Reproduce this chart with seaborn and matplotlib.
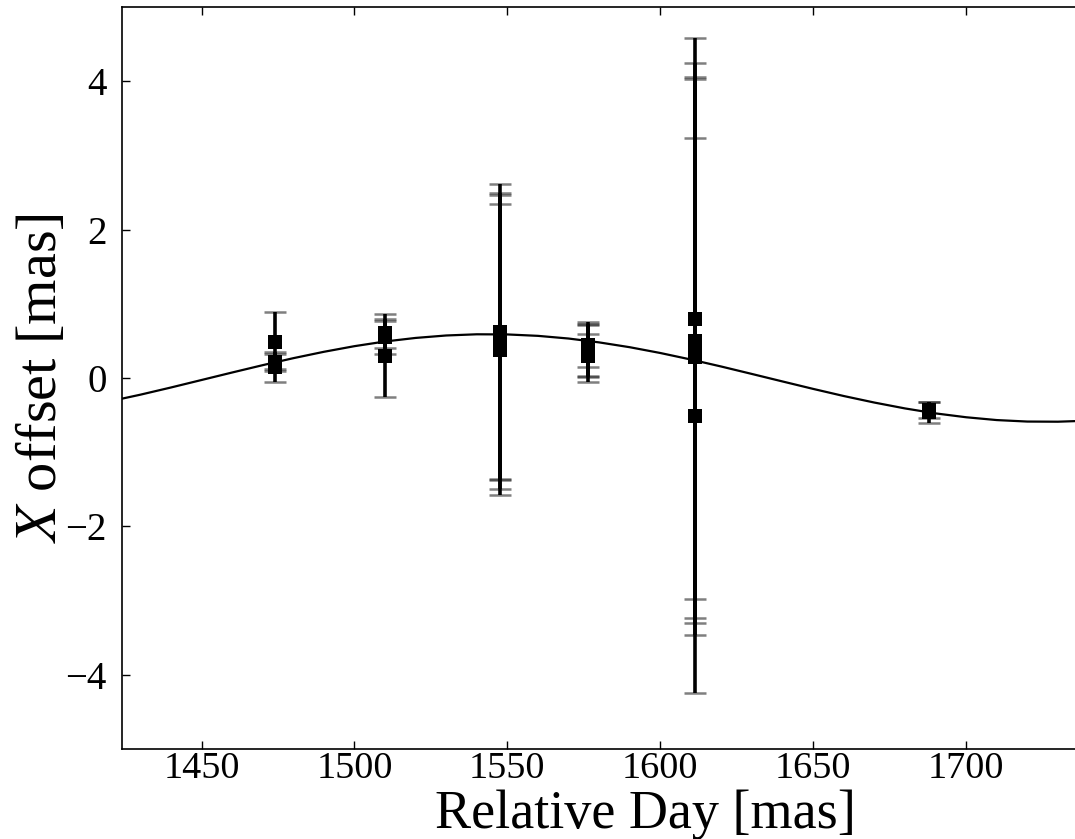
import matplotlib
matplotlib.use("Agg")
import matplotlib.pyplot as plt
import seaborn as sns
import pandas as pd

# ---- data ----
day = [1474, 1474, 1474,
       1510, 1510, 1510,
       1547.5, 1547.5, 1547.5, 1547.5,
       1576.5, 1576.5, 1576.5, 1576.5,
       1611.5, 1611.5, 1611.5, 1611.5, 1611.5,
       1688, 1688]
x_offset = [0.49, 0.22, 0.15,
            0.60, 0.55, 0.30,
            0.62, 0.50, 0.55, 0.38,
            0.45, 0.38, 0.33, 0.30,
            0.80, 0.50, 0.38, 0.28, -0.51,
            -0.43, -0.46]
x_err = [0.40, 0.10, 0.20,
         0.20, 0.22, 0.56,
         2.00, 1.99, 1.91, 1.96,
         0.30, 0.35, 0.38, 0.29,
         3.78, 3.74, 3.68, 3.75, 3.74,
         0.11, 0.14]

curve_day = [1420, 1430, 1440, 1450, 1460, 1470, 1480, 1490, 1500, 1510,
             1520, 1530, 1540, 1550, 1560, 1570, 1580, 1590, 1600, 1610,
             1620, 1630, 1640, 1650, 1660, 1670, 1680, 1690, 1700, 1710,
             1720, 1730, 1740, 1750, 1760, 1770]
curve_x = [-0.314, -0.225, -0.128, -0.027, 0.074, 0.173, 0.267, 0.353, 0.429, 0.492,
           0.540, 0.573, 0.589, 0.587, 0.568, 0.532, 0.480, 0.415, 0.337, 0.249,
           0.154, 0.054, -0.047, -0.147, -0.243, -0.331, -0.410, -0.477, -0.529, -0.567,
           -0.587, -0.589, -0.575, -0.543, -0.494, -0.430]

xticks = [1450, 1500, 1550, 1600, 1650, 1700]
yticks = [-4, -2, 0, 2, 4]

pts = pd.DataFrame({"day": day, "xoff": x_offset, "err": x_err})
model = pd.DataFrame({"day": curve_day, "xoff": curve_x})

sns.set_theme(style="ticks")
plt.rcParams["font.family"] = ["Liberation Serif", "DejaVu Serif"]
plt.rcParams["mathtext.fontset"] = "stix"
plt.rcParams["axes.linewidth"] = 1.2

W, H = 1075, 839
ax_left, ax_right, ax_top, ax_bottom = 122, 1168, 7, 749   # pixels (axes runs past right edge)
fig = plt.figure(figsize=(W / 100, H / 100), dpi=100)
ax = fig.add_axes([ax_left / W, 1 - ax_bottom / H,
                   (ax_right - ax_left) / W, (ax_bottom - ax_top) / H])

sns.lineplot(data=model, x="day", y="xoff", ax=ax, color="black",
             linewidth=1.6, sort=True, zorder=1)

eb = ax.errorbar(pts["day"], pts["xoff"], yerr=pts["err"], fmt="none",
                 ecolor="black", elinewidth=2.6, capsize=8, capthick=1.8,
                 zorder=2)
for cl in eb[1]:
    cl.set_color("#666666")
    cl.set_alpha(0.5)

sns.scatterplot(data=pts, x="day", y="xoff", ax=ax, marker="s", s=100,
                color="black", linewidth=0, zorder=3, legend=False)

ax.set_xlim(1424, 1766)
ax.set_ylim(-5, 5)
ax.set_xticks(xticks)
ax.set_yticks(yticks)
ax.tick_params(axis="both", which="major", direction="in", length=6,
               width=1.0, top=True, right=True, labelsize=28,
               color="black", labelcolor="black")
ax.tick_params(axis="x", pad=2, labelsize=27.5)
ax.tick_params(axis="y", pad=11)
for sp in ax.spines.values():
    sp.set_visible(True)
    sp.set_color("black")

axw = ax_right - ax_left
axh = ax_bottom - ax_top
ax.set_xlabel("Relative Day [mas]", fontsize=39, color="black")
ax.set_ylabel(r"$X$ offset [mas]", fontsize=42, color="black")
ax.xaxis.set_label_coords(0.5, (ax_bottom - 789) / axh)
ax.yaxis.set_label_coords((68 - ax_left) / axw, 0.5)

fig.savefig("out.png", dpi=100, facecolor="white")
